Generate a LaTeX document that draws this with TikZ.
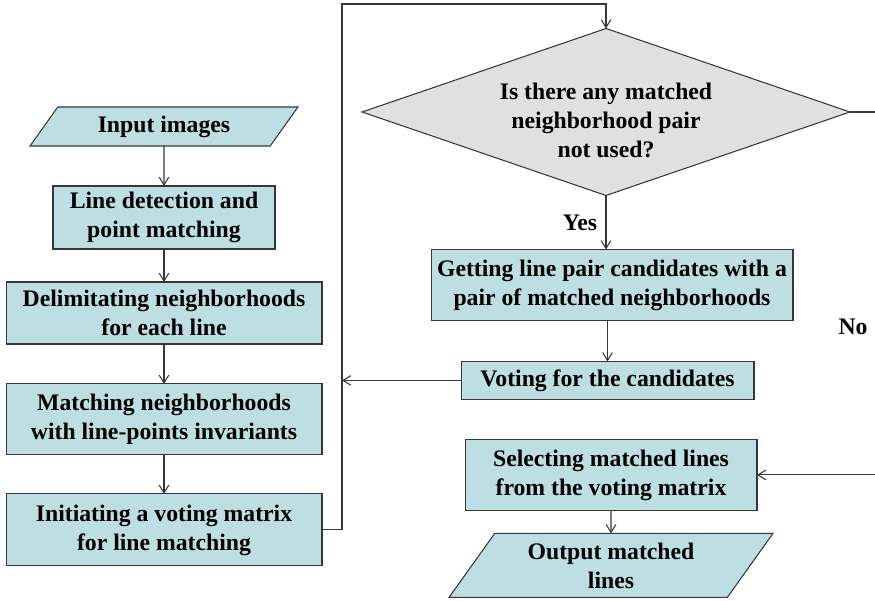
\documentclass[tikz,border=0pt]{standalone}
\usepackage{fontspec}
\setmainfont{Liberation Serif}
\usepackage{tikz}
\usetikzlibrary{positioning}
\usetikzlibrary{shapes.geometric}
\usetikzlibrary{arrows.meta}
\definecolor{boxblue}{RGB}{189,223,227}
\definecolor{askgray}{RGB}{224,224,224}
\definecolor{edgegray}{RGB}{55,55,55}
\tikzset{
  every node/.style={font=\bfseries\fontsize{13.5}{16.5}\selectfont, align=center, outer sep=0pt},
  stepbox/.style={rectangle, draw=edgegray, fill=boxblue, inner sep=0pt},
  iobox/.style={trapezium, draw=edgegray, fill=boxblue, inner sep=0pt, trapezium stretches body},
  askbox/.style={diamond, draw=edgegray, fill=askgray, inner sep=0pt, aspect=2.94},
  flow/.style={draw=edgegray, line width=0.6pt, -{Straight Barb[length=4.5pt,width=5.5pt]}}
}
\begin{document}
\begin{tikzpicture}
        [x=0.02cm, y=-0.02cm, line width=0.6pt]
        \useasboundingbox (0,0) rectangle (875,601);
        \node[iobox, trapezium left angle=38, trapezium right angle=142,
              minimum width=5.36cm, minimum height=0.78cm]  (inp) at (164,126.5) {Input images};
        \node[stepbox, minimum width=4.44cm, minimum height=1.26cm]  (det) at (164,217.5) {Line detection and\\point matching};
        \node[stepbox, minimum width=6.32cm, minimum height=1.24cm]  (delim) [below=0.66cm of det] {Delimitating neighborhoods\\for each line};
        \node[stepbox, minimum width=6.32cm, minimum height=1.42cm]  (matchnb) [below=0.8cm of delim] {Matching neighborhoods\\with line-points invariants};
        \node[stepbox, minimum width=6.32cm, minimum height=1.44cm]  (init) [below=0.78cm of matchnb] {Initiating a voting matrix\\for line matching};

        \node[askbox, minimum width=9.76cm, minimum height=3.34cm]  (q) at (606,112) {};
        \node (qtext) at (606,120) {Is there any matched\\neighborhood pair\\not used?};
        \node[stepbox, minimum width=7.24cm, minimum height=1.42cm]  (cand) [below=1.08cm of q, xshift=0.12cm] {Getting line pair candidates with a\\pair of matched neighborhoods};
        \node[stepbox, minimum width=5.86cm, minimum height=0.76cm]  (vote) [below=0.82cm of cand, xshift=-0.09cm] {Voting for the candidates};
        \node[stepbox, minimum width=5.84cm, minimum height=1.42cm]  (select) [below=0.8cm of vote, xshift=0.07cm] {Selecting matched lines\\from the voting matrix};
        \node[iobox, trapezium left angle=45, trapezium right angle=135,
              minimum width=6.48cm, minimum height=1.28cm]  (out) [below=0.46cm of select] {Output matched\\lines};

        \node (yes) at (580,223) {Yes};
        \node (no) at (853,327) {No};

        \coordinate (looptop) at (342,4);
        \coordinate (noright) at (886,112);

        \path [flow] (inp) edge (det)
        (det) edge (delim)
        (delim) edge (matchnb)
        (matchnb) edge (init)
        (select) edge (out);
        \draw [flow] (q.south) -- (q.south |- cand.north);
        \draw [flow] (cand.south -| vote.north) -- (vote.north);
        \draw [flow] (init.east) -- (init.east -| looptop) -- (looptop) -| (q.north);
        \draw [flow] (vote.west) -- (vote.west -| looptop);
        \draw [flow] (q.east) -- (noright) |- (select.east);
       \end{tikzpicture}
\end{document}
